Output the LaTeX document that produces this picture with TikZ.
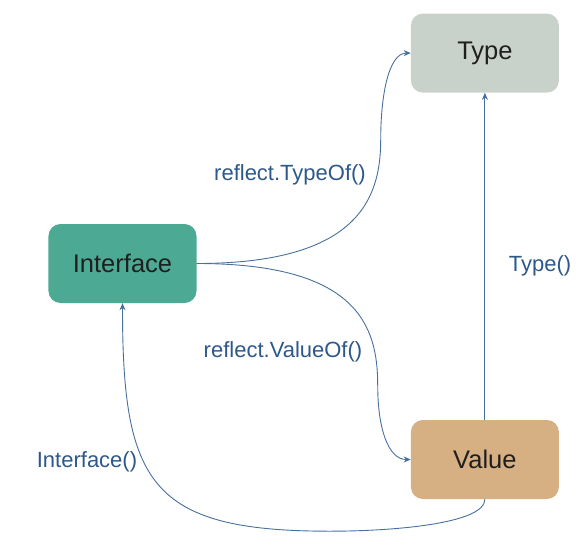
\documentclass[tikz,border=0pt]{standalone}
\usepackage{fontspec}
\setmainfont{Liberation Sans}
\usetikzlibrary{arrows.meta, positioning, calc}
\definecolor{typegray}{RGB}{201,210,202}
\definecolor{itfteal}{RGB}{76,170,148}
\definecolor{valtan}{RGB}{214,176,130}
\definecolor{lnblue}{RGB}{72,112,158}
\definecolor{lblblue}{RGB}{46,88,138}

\begin{document}
\begin{tikzpicture}[x=1pt, y=1pt,
		box/.style={rounded corners=12pt, minimum width=148pt, minimum height=79pt,
		            text=black!88, font=\fontsize{25.5}{30}\selectfont},
		lbl/.style={text=lblblue, font=\fontsize{22}{26}\selectfont},
		arr/.style={-{Stealth[length=7pt, width=6pt]}, line width=0.9pt, lnblue}]
		\useasboundingbox (-122.5,-278.5) rectangle (461.5,263.5);
		\node[box, fill=itfteal] (itf) at (0,0) {Interface};
		\node[box, fill=typegray, above right=131pt and 214pt of itf] (typ) {Type};
		\node[box, fill=valtan, below=327pt of typ] (val) {Value};
		\coordinate (tbend) at ($(itf.east)+(184,123.5)$);
		\coordinate (vbend) at ($(itf.east)+(181,-121.5)$);
		\coordinate (bbend) at ($(itf.south)+(207.5,-228)$);
		\node[lbl] (typeofl) at (167.5,88.5) {reflect.TypeOf()};
		\node[lbl] (valueofl) at (160.5,-88.5) {reflect.ValueOf()};
		\node[lbl] (typel) at (417.5,-2.5) {Type()};
		\node[lbl] (itfl) at (-35.5,-198.5) {Interface()};
		\draw[arr] (itf.east) .. controls +(160,0) and +(0,-60) .. (tbend)
		           .. controls +(0,45) and +(-22,0) .. (typ.west);
		\draw[arr] (itf.east) .. controls +(160,0) and +(0,60) .. (vbend)
		           .. controls +(0,-45) and +(-22,0) .. (val.west);
		\draw[arr] (val.north) -- (typ.south);
		\draw[arr] (val.south) .. controls +(0,-25) and +(60,0) .. (bbend)
		           .. controls +(-180,0) and +(0,-180) .. (itf.south);
	\end{tikzpicture}
\end{document}
